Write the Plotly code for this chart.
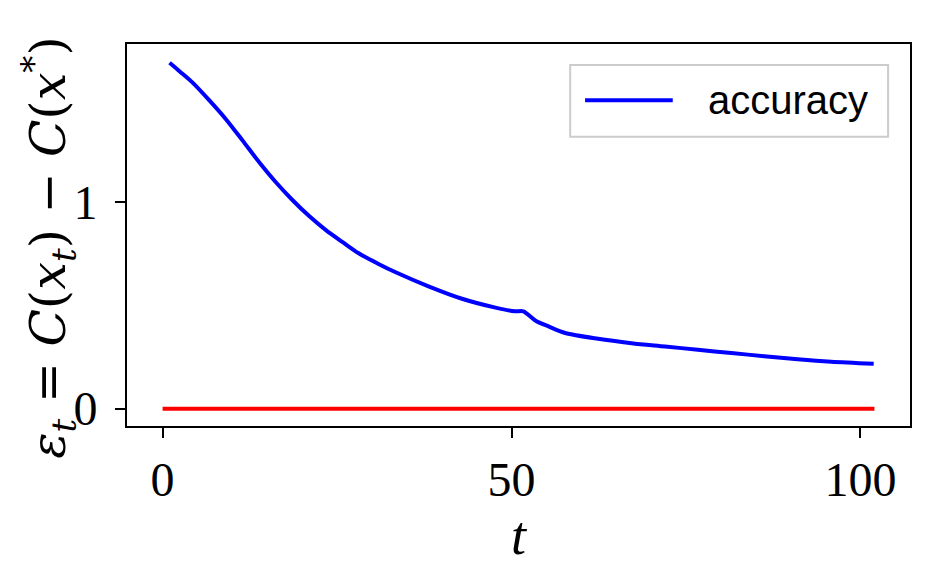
import plotly.graph_objects as go

# values
t_acc = [1, 2.5, 4.3, 6.7, 9.1, 11.5, 13.9, 16.2, 18.6, 21, 23.4, 25.8, 28.1, 30.8, 33.4,
         38.1, 42.9, 47.7, 50.5, 51.7, 53.4, 55.3, 57.7, 62.4, 67.2, 72, 76.7, 81.5,
         86.2, 91, 95.8, 101.9]
eps_acc = [1.674, 1.631, 1.578, 1.492, 1.400, 1.296, 1.190, 1.097, 1.010, 0.932, 0.864,
           0.806, 0.752, 0.703, 0.660, 0.592, 0.532, 0.489, 0.471, 0.471, 0.427, 0.398,
           0.366, 0.338, 0.317, 0.301, 0.285, 0.269, 0.254, 0.239, 0.227, 0.217]
t_ref = [0, 102]
eps_ref = [0, 0]

x_ticks = [0, 50, 100]
y_ticks = [0, 1]

serif = "Liberation Serif"

fig = go.Figure()
fig.add_trace(go.Scatter(x=t_acc, y=eps_acc, mode="lines", name="accuracy",
                         line=dict(color="#0000ff", width=4, shape="spline", smoothing=0.8),
                         showlegend=False))
fig.add_trace(go.Scatter(x=t_ref, y=eps_ref, mode="lines",
                         line=dict(color="#ff0000", width=4), showlegend=False))

axis_common = dict(showline=True, linecolor="black", linewidth=2, mirror=True,
                   ticks="outside", ticklen=10, tickwidth=2, tickcolor="black",
                   showgrid=False, zeroline=False,
                   tickfont=dict(family=serif, size=48, color="black"))

fig.update_xaxes(range=[-5.1, 107.1], tickvals=x_ticks,
                 title=dict(text="<i>t</i>", font=dict(family=serif, size=54, color="black"),
                            standoff=4),
                 **axis_common)
fig.update_yaxes(range=[-0.084, 1.765], tickvals=y_ticks, ticklabelstandoff=8,
                 **axis_common)

# y label as an annotation so it can sit slightly below centre like the reference
fig.add_annotation(text="<i>ε</i><sub><i>t</i></sub> = <i>C</i>(<i>x</i><sub><i>t</i></sub>) − <i>C</i>(<i>x</i><sup>*</sup>)",
                   xref="paper", yref="paper", x=-0.1, y=0.466, textangle=-90,
                   xanchor="center", yanchor="middle", showarrow=False,
                   font=dict(family="DejaVu Serif", size=49, color="black"))

# legend box drawn by hand so the sample line is as long as in the reference
fig.add_shape(type="rect", xref="paper", yref="paper", x0=0.566, x1=0.972, y0=0.757, y1=0.945,
              line=dict(color="#cccccc", width=2), fillcolor="white", layer="above")
fig.add_shape(type="line", xref="paper", yref="paper", x0=0.585, x1=0.697, y0=0.853, y1=0.853,
              line=dict(color="#0000ff", width=4), layer="above")
fig.add_annotation(text="accuracy", xref="paper", yref="paper", x=0.739, y=0.853,
                   xanchor="left", yanchor="middle", showarrow=False,
                   font=dict(family="Liberation Sans", size=40, color="black"))

# page body has an 8px margin, so shift the plot margins to compensate
fig.update_layout(width=934, height=575, margin=dict(l=119, r=32, t=36, b=157),
                  paper_bgcolor="white", plot_bgcolor="white")

fig.write_html("out.html")
